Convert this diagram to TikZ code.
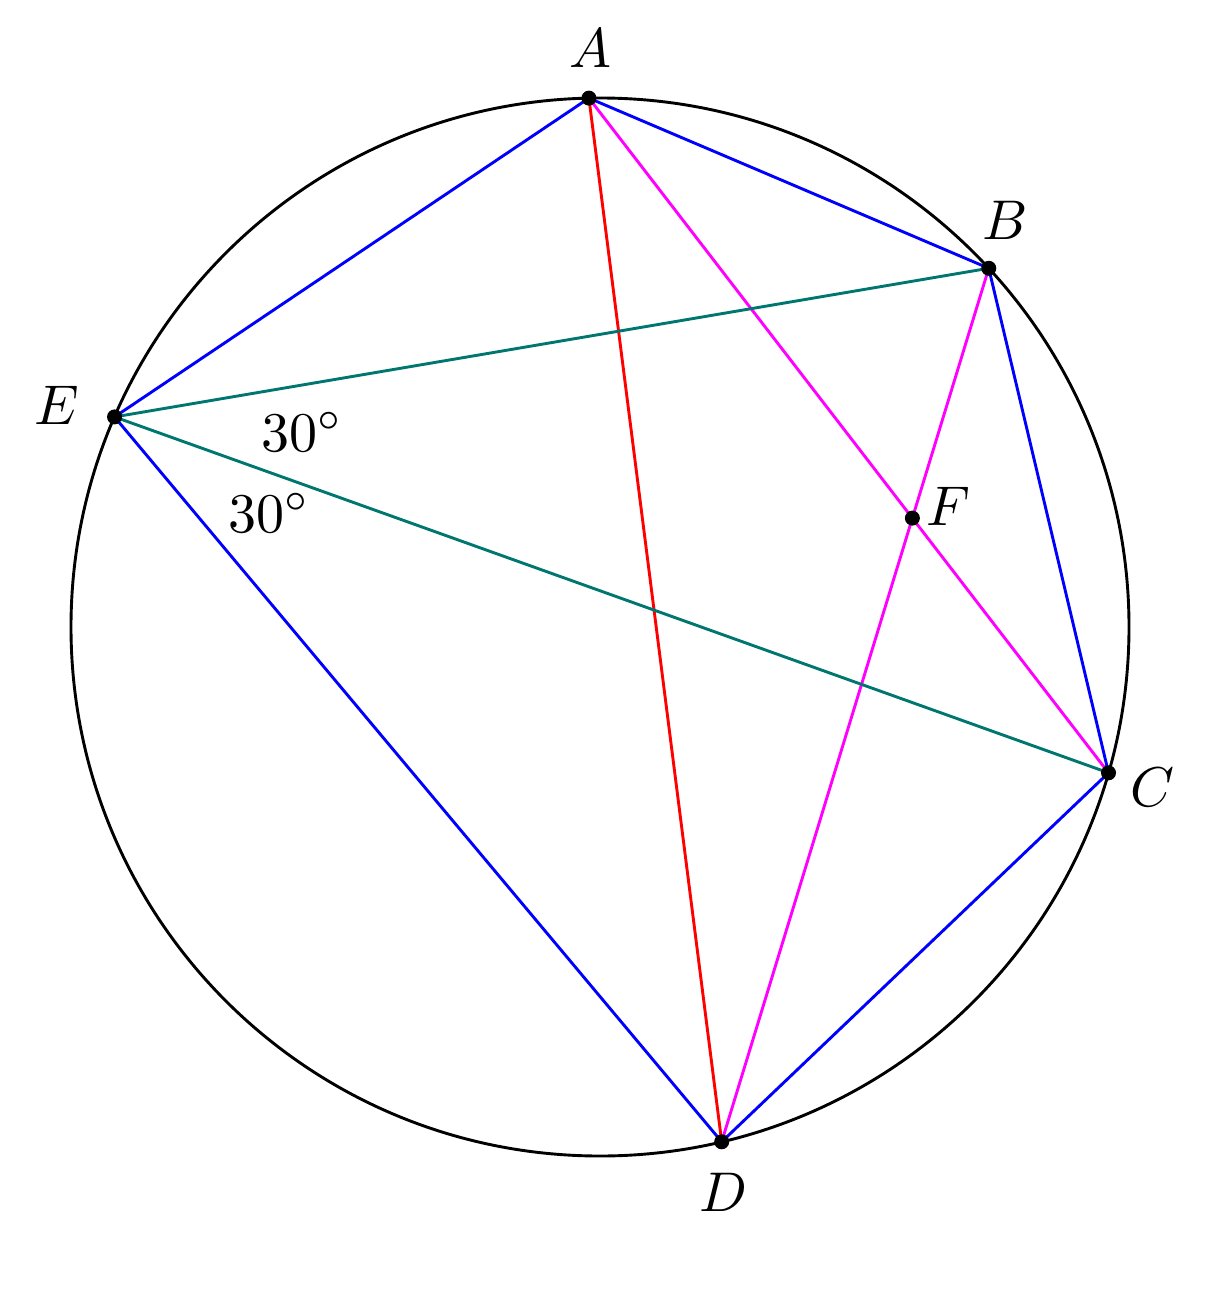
\documentclass[tikz,border=0pt]{standalone}
\usetikzlibrary{calc,intersections}
\definecolor{tealline}{RGB}{0,118,112}
\definecolor{magline}{RGB}{255,0,255}
\begin{document}
\begin{tikzpicture}[x=1pt,y=-1pt,
  seg/.style={line width=2.9pt},
  pt/.style={circle,fill=black,inner sep=0pt,minimum size=15pt},
  lab/.style={scale=5.6,inner sep=0pt},
]
\useasboundingbox (0,0) rectangle (1205,1305);
\coordinate (O) at (600,627);
\draw[line width=2.9pt] (O) circle[radius=529];
\path (O) ++(-91.2:529) coordinate (A);
\path (O) ++(-42.7:529) coordinate (B);
\path (O) ++(16.0:529) coordinate (C);
\path (O) ++(76.7:529) coordinate (D);
\path (O) ++(-156.6:529) coordinate (E);
\path[name path=ac] (A) -- (C);
\path[name path=bd] (B) -- (D);
\path[name intersections={of=ac and bd,by=F}];
% pentagon
\draw[seg,blue] (A) -- (B);
\draw[seg,blue] (B) -- (C);
\draw[seg,blue] (C) -- (D);
\draw[seg,blue] (D) -- (E);
\draw[seg,blue] (E) -- (A);
% diagonals
\draw[seg,red] (A) -- (D);
\draw[seg,magline] (A) -- (C);
\draw[seg,magline] (B) -- (D);
\draw[seg,tealline] (E) -- (B);
\draw[seg,tealline] (E) -- (C);
% points
\foreach \p in {A,B,C,D,E,F} \node[pt] (d\p) at (\p) {};
% labels
\node[lab] (lA) at (590,48) {$A$};
\node[lab] (lB) at (1005,220) {$B$};
\node[lab] (lC) at (1152,787) {$C$};
\node[lab] (lD) at (723,1192) {$D$};
\node[lab] (lE) at (57,405) {$E$};
\node[lab] (lF) at (948,506) {$F$};
\node[lab] (a1) at (302,432) {$30^\circ$};
\node[lab] (a2) at (269,513) {$30^\circ$};
\end{tikzpicture}
\end{document}
